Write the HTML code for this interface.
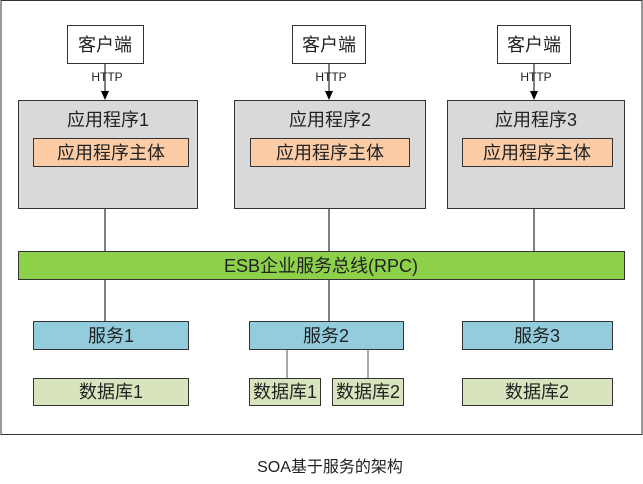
<!DOCTYPE html><html><head><style>body{margin:0;background:#fff}text{font-family:"Liberation Sans","Noto Sans CJK SC",sans-serif;fill:#222}</style></head><body>
<svg width="643" height="479" xmlns="http://www.w3.org/2000/svg">
<rect x="1" y="0.5" width="641" height="434" fill="#fff" stroke="#333"/>
<g stroke="#000" stroke-width="1">
<line x1="105" y1="63" x2="105" y2="92"/>
<line x1="329" y1="63" x2="329" y2="92"/>
<line x1="534" y1="63" x2="534" y2="92"/>
<line x1="105" y1="208" x2="105" y2="321"/>
<line x1="329" y1="208" x2="329" y2="321"/>
<line x1="534" y1="208" x2="534" y2="321"/>
<line x1="287" y1="349" x2="287" y2="378" stroke="#555"/>
<line x1="368" y1="349" x2="368" y2="378" stroke="#555"/>
</g>
<g fill="#000">
<path d="M101,91 L109,91 L105,100z"/>
<path d="M325,91 L333,91 L329,100z"/>
<path d="M530,91 L538,91 L534,100z"/>
</g>
<g stroke="#333" stroke-width="1">
<rect x="67.5" y="25.5" width="76" height="38" fill="#fff"/>
<rect x="292.5" y="25.5" width="73" height="38" fill="#fff"/>
<rect x="497.5" y="25.5" width="73" height="38" fill="#fff"/>
<rect x="18.5" y="100.5" width="179" height="108" fill="#d9d9d9"/>
<rect x="234.5" y="100.5" width="191" height="108" fill="#d9d9d9"/>
<rect x="447.5" y="100.5" width="177" height="108" fill="#d9d9d9"/>
<rect x="33.5" y="138.5" width="155" height="28" fill="#fbcca6"/>
<rect x="250.5" y="138.5" width="159" height="28" fill="#fbcca6"/>
<rect x="462.5" y="138.5" width="150" height="28" fill="#fbcca6"/>
<rect x="18.5" y="251.5" width="606" height="28" fill="#8dd04a"/>
<rect x="33.5" y="321.5" width="155" height="28" fill="#93cddd"/>
<rect x="249.5" y="321.5" width="154" height="28" fill="#93cddd"/>
<rect x="462.5" y="321.5" width="150" height="28" fill="#93cddd"/>
<rect x="33.5" y="378.5" width="155" height="27" fill="#d7e4bd"/>
<rect x="249.5" y="378.5" width="71" height="27" fill="#d7e4bd"/>
<rect x="332.5" y="378.5" width="71" height="27" fill="#d7e4bd"/>
<rect x="462.5" y="378.5" width="150" height="27" fill="#d7e4bd"/>
</g>
<g font-size="18" text-anchor="middle">
<text x="105" y="51">客户端</text><text x="329" y="51">客户端</text><text x="534" y="51">客户端</text>
<text x="108" y="126">应用程序1</text><text x="330" y="126">应用程序2</text><text x="536" y="126">应用程序3</text>
<text x="111" y="159">应用程序主体</text><text x="330" y="159">应用程序主体</text><text x="537" y="159">应用程序主体</text>
<text x="321" y="272">ESB企业服务总线(RPC)</text>
<text x="111" y="342">服务1</text><text x="326" y="342">服务2</text><text x="537" y="342">服务3</text>
<text x="111" y="398">数据库1</text><text x="285" y="398">数据库1</text><text x="368" y="398">数据库2</text><text x="537" y="398">数据库2</text>
<text x="330" y="472" font-size="16">SOA基于服务的架构</text>
</g>
<g font-size="12" text-anchor="middle">
<text x="107" y="81">HTTP</text><text x="331" y="81">HTTP</text><text x="536" y="81">HTTP</text>
</g>
</svg></body></html>
